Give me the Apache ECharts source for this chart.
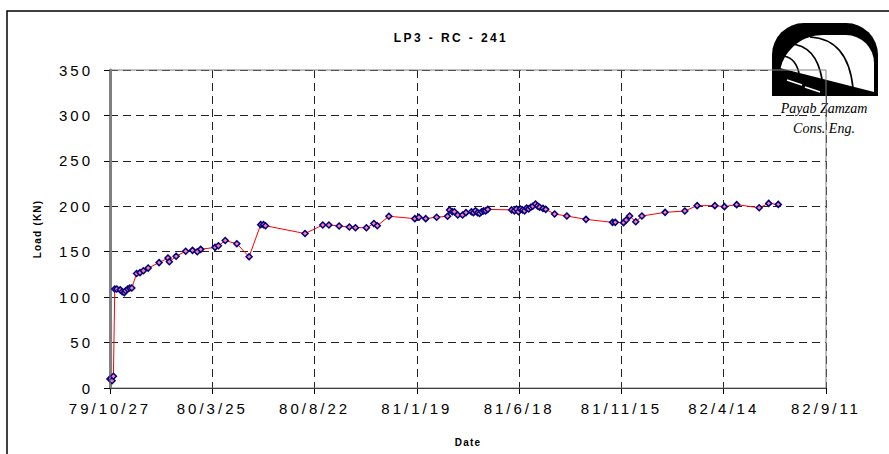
<!DOCTYPE html>
<html>
<head>
<meta charset="utf-8">
<script src="https://cdn.jsdelivr.net/npm/echarts@6/dist/echarts.min.js"></script>
<style>
html,body{margin:0;padding:0;background:#fff}
#c{width:889px;height:454px}
#c svg text[style*="15px"]{letter-spacing:3px}
#c svg text[style*="bold"][style*="12px"]{letter-spacing:2.4px}
#c svg text[style*="bold"][style*="10px"]{letter-spacing:1.2px}
</style>
</head>
<body>
<div id="c"></div>
<script>
// Days elapsed since 79/10/27
const days = [0,1,3,5,
  7,10,15,18,21,23,26,29,32,
  39,44,49,56,72,85,87,97,111,121,128,133,154,159,169,186,204,221,225,228,
  286,312,321,336,351,360,376,387,392,409,447,453,463,479,495,498,502,505,510,517,522,
  530,533,536,539,542,545,548,551,554,589,593,596,599,602,605,608,611,614,617,620,624,627,630,635,639,
  652,670,698,737,741,753,757,762,771,780,814,843,861,887,901,919,952,966,980];
const loadKN = [10,10,8,13,
  109,109,108,106,105,107,109,110,110,
  126,127,129,132,138,143,139,145,150.5,151.5,150,152.6,154.8,156.6,162.3,158.8,144.5,179.8,179.8,178.6,
  170,179.4,179.4,178.3,177.2,176.4,176.4,181,178.6,189,186.4,188,186.4,188,189,196,194,194,190.4,190.4,193,
  194,193,195,193,192,194,195,195,196.6,196,195,197,194,197,196,195,198,197,199,200,202.5,200.3,199,197.7,196.6,
  191.5,189.3,185.6,182.3,182.3,182,184.9,189.3,183,189.3,193.3,194.8,200.7,200.7,199.6,201.8,198.4,203.2,202.1];
const xTickLabels = ['79/10/27','80/3/25','80/8/22','81/1/19','81/6/18','81/11/15','82/4/14','82/9/11'];
const yTicks = [0,50,100,150,200,250,300,350];
const titleText = 'LP3 - RC - 241';
const xName = 'Date';
const yName = 'Load (KN)';

const data = days.map((d, i) => [d, loadKN[i]]);
const chart = echarts.init(document.getElementById('c'), null, {renderer: 'svg'});
const font = 'Arial, "Liberation Sans", sans-serif';
const logoFont = 'italic 14px "Liberation Serif", "DejaVu Serif", serif';
chart.setOption({
  animation: false,
  backgroundColor: '#fff',
  title: {text: titleText, left: 446, top: 27, textAlign: 'center',
    textStyle: {fontFamily: font, fontSize: 12, fontWeight: 'bold', color: '#000'}},
  grid: {left: 110, right: 63, top: 70, bottom: 66, show: true, borderColor: '#808080', borderWidth: 1, z: 5},
  xAxis: {
    type: 'value', min: 0, max: 1050, interval: 150,
    name: xName, nameLocation: 'middle', nameGap: 49,
    nameTextStyle: {fontFamily: font, fontSize: 10, fontWeight: 'bold', color: '#000'},
    axisLine: {show: true, lineStyle: {color: '#000', width: 1}},
    axisTick: {show: true, inside: false, length: 6, lineStyle: {color: '#000'}},
    axisLabel: {margin: 13, fontFamily: font, fontSize: 15, color: '#000',
      formatter: v => xTickLabels[Math.round(v / 150)] || ''},
    splitLine: {show: true, lineStyle: {color: '#222', type: [8, 5], width: 1}}
  },
  yAxis: {
    type: 'value', min: yTicks[0], max: yTicks[yTicks.length - 1], interval: 50,
    name: yName, nameLocation: 'middle', nameGap: 68, nameRotate: 90,
    nameTextStyle: {fontFamily: font, fontSize: 10, fontWeight: 'bold', color: '#000'},
    axisLine: {show: true, lineStyle: {color: '#808080', width: 3}},
    axisTick: {show: true, inside: false, length: 6, lineStyle: {color: '#000'}},
    axisLabel: {margin: 17, fontFamily: font, fontSize: 15, color: '#000'},
    splitLine: {show: true, lineStyle: {color: '#222', type: [8, 5], width: 1}}
  },
  series: [{
    type: 'line', data: data, symbol: 'diamond', symbolSize: 6,
    lineStyle: {color: '#ff0000', width: 1},
    itemStyle: {color: '#ff7f9f', borderColor: '#000080', borderWidth: 1.5}
  }],
  graphic: {
    z: -10,
    elements: [
      {type: 'rect', shape: {x: 7, y: 11, width: 1000, height: 1000}, style: {fill: 'none', stroke: '#000', lineWidth: 1.5}, silent: true, z: 0},
      {type: 'rect', shape: {x: 772, y: 23, width: 106, height: 72, r: [32, 32, 0, 0]}, style: {fill: '#000'}, z: 0},
      {type: 'rect', shape: {x: 779, y: 35, width: 95, height: 60, r: [44, 28, 0, 0]}, style: {fill: '#fff'}, z: 1},
      {type: 'polygon', shape: {points: [[772, 66], [878, 93], [878, 96], [772, 96]]}, style: {fill: '#000'}, z: 2},
      {type: 'line', shape: {x1: 787, y1: 80, x2: 802, y2: 85}, style: {stroke: '#fff', lineWidth: 1.5}, z: 3},
      {type: 'line', shape: {x1: 805, y1: 87, x2: 820, y2: 92}, style: {stroke: '#fff', lineWidth: 1.5}, z: 3},
      {type: 'bezierCurve', shape: {x1: 781, y1: 56, x2: 799, y2: 73, cpx1: 795, cpy1: 56}, style: {stroke: '#000', lineWidth: 1.7, fill: 'none'}, z: 3},
      {type: 'bezierCurve', shape: {x1: 790, y1: 44, x2: 822, y2: 79, cpx1: 816, cpy1: 45}, style: {stroke: '#000', lineWidth: 1.7, fill: 'none'}, z: 3},
      {type: 'bezierCurve', shape: {x1: 810, y1: 37, x2: 853, y2: 88, cpx1: 848, cpy1: 39}, style: {stroke: '#000', lineWidth: 1.7, fill: 'none'}, z: 3},
      {type: 'text', x: 824, y: 108, style: {text: 'Payab Zamzam', font: logoFont, fill: '#000', textAlign: 'center', textVerticalAlign: 'middle'}, z: 3},
      {type: 'text', x: 824, y: 128, style: {text: 'Cons. Eng.', font: logoFont, fill: '#000', textAlign: 'center', textVerticalAlign: 'middle'}, z: 3}
    ]
  }
});
</script>
</body>
</html>
